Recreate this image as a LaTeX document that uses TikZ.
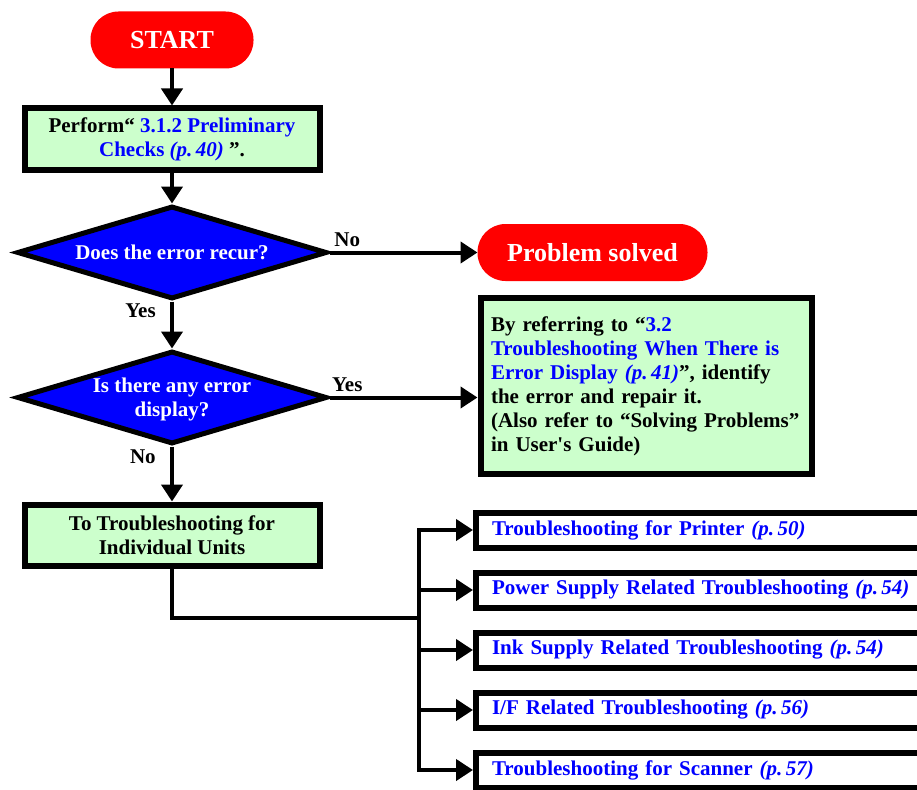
\documentclass[tikz,border=0pt]{standalone}
\usepackage{fontspec}
\setmainfont{Liberation Serif}
\usetikzlibrary{positioning,shapes.geometric,arrows.meta}

\definecolor{termred}{HTML}{FF0000}
\definecolor{boxgreen}{HTML}{CCFFCC}
\definecolor{linkblue}{HTML}{0000FF}
\newcommand{\lnk}[1]{\textcolor{linkblue}{#1}}
\newcommand{\pref}[1]{\textcolor{linkblue}{\itshape(p.\,#1)}}

\begin{document}
\begin{tikzpicture}[x=1pt,y=-1pt,
  font=\fontsize{21}{24}\selectfont\bfseries,
  >={Triangle[length=17pt,width=21pt]},
  term/.style={fill=termred, text=white, rounded corners=28pt,
    minimum height=57pt, outer sep=0pt,
    font=\fontsize{26}{30}\selectfont\bfseries},
  box/.style={draw, line width=6pt, fill=boxgreen,
    minimum width=295pt, minimum height=61pt, align=center},
  decision/.style={diamond, draw, line width=5pt, fill=blue, text=white,
    aspect=3.3, inner sep=0pt, minimum width=310pt, minimum height=93pt,
    align=center},
  branch/.style={draw, line width=6pt, fill=white, text=linkblue,
    text width=520pt, align=left, inner xsep=16pt, minimum height=35pt},
  flow/.style={->, line width=4pt}]
\useasboundingbox (0,0) rectangle (917,789);
\clip (0,0) rectangle (917,789);

\node[term, minimum width=163pt] (start) at (172,40) {START};

\node[box] (perform) [below=37pt of start]
  {Perform“ \lnk{3.1.2 Preliminary}\\\lnk{Checks} \pref{40} ”.};

\node[decision] (recur) [below=31pt of perform] {Does the error recur?};

\node[term, minimum width=230pt] (solved) [right=148pt of recur] {Problem solved};

\node[decision, text depth=0pt] (display) [below=47pt of recur]
  {Is there any error\\display?};

\node[draw, line width=6pt, fill=boxgreen, text width=310pt, align=left,
      inner xsep=10.5pt, minimum height=176pt] (repair)
      [below right=14pt and 0pt of solved.south west]
  {By referring to “\lnk{3.2}\\
   \lnk{Troubleshooting When There is}\\
   \lnk{Error Display} \pref{41}”, identify\\
   the error and repair it.\\
   (Also refer to “Solving Problems”\\
   in User\textquotesingle s Guide)};

\node[box] (units) [below=55pt of display] {To Troubleshooting for\\Individual Units};

% one box per unit
\node[branch, anchor=west] (printer) at (473,530)
  {Troubleshooting for Printer \pref{50}};
\node[branch] (power) [below=19pt of printer]
  {Power Supply Related Troubleshooting \pref{54}};
\node[branch] (ink) [below=19pt of power]
  {Ink Supply Related Troubleshooting \pref{54}};
\node[branch] (iface) [below=19pt of ink]
  {I/F Related Troubleshooting \pref{56}};
\node[branch] (scanner) [below=19pt of iface]
  {Troubleshooting for Scanner \pref{57}};

\coordinate (jn) at (419,618);

\draw [flow] (start.south) -- (perform.north);
\draw [flow] (perform.south) -- (recur.north);
\draw [flow] (recur.east) -- node[pos=0.12, above] {No} (solved.west);
\draw [flow] (recur.south) -- node[pos=0.2, left=11pt] {Yes} (display.north);
\draw [flow] (display.east) -- node[pos=0.12, above] {Yes} (display.east -| repair.west);
\draw [flow] (display.south) -- node[pos=0.18, left=11pt] {No} (units.north);

\draw [line width=4pt] (units.south) |- (jn);
\draw [line width=4pt, line cap=rect] (printer.west -| jn) -- (scanner.west -| jn);
\foreach \b in {printer,power,ink,iface,scanner}
  \draw [flow] (\b.west -| jn) -- (\b.west);
\end{tikzpicture}
\end{document}
